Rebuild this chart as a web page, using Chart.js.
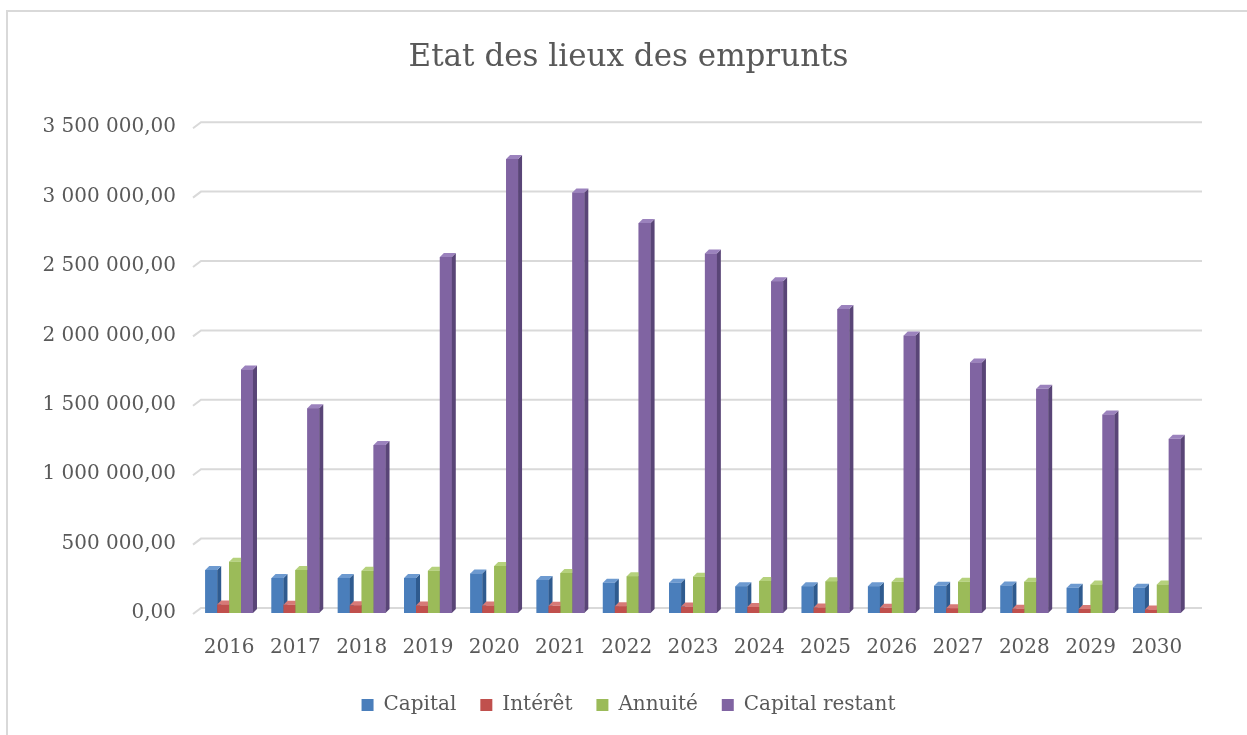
<!DOCTYPE html>
<html>
<head>
<meta charset="utf-8">
<script src="https://cdn.jsdelivr.net/npm/chart.js@4"></script>
<style>
  html, body { margin: 0; padding: 0; background: #fff; }
  #wrap { width: 1247px; height: 735px; position: relative; }
</style>
</head>
<body>
<div id="wrap"><canvas id="graphique" width="1247" height="735"></canvas></div>
<script>
const annees = ["2016", "2017", "2018", "2019", "2020", "2021", "2022", "2023", "2024", "2025", "2026", "2027", "2028", "2029", "2030"];
const capital = [310000, 252000, 252000, 252000, 285000, 238000, 218000, 218000, 192000, 192000, 192000, 196000, 198000, 182000, 182000];
const interet = [62000, 60000, 55000, 54000, 54000, 52000, 49000, 46000, 43000, 40000, 37000, 34000, 31000, 28000, 25000];
const annuite = [370000, 310000, 305000, 305000, 338000, 288000, 265000, 262000, 230000, 228000, 225000, 225000, 226000, 205000, 205000];
const restant = [1755000, 1475000, 1210000, 2565000, 3270000, 3030000, 2810000, 2590000, 2390000, 2190000, 2000000, 1805000, 1615000, 1430000, 1255000];
const graduations = [0, 500000, 1000000, 1500000, 2000000, 2500000, 3000000, 3500000];

const couleurs = ["#4a7ebb", "#c0504d", "#9bbb59", "#8064a2"];
const cotes = ["#2f5b8f", "#8e3432", "#718a3d", "#594577"];
const dessus = ["#6d9ad0", "#d77a77", "#b5d17c", "#9b82bd"];
const PROF = 4;

function formatNombre(v) {
  const s = Math.round(v).toString().replace(/\B(?=(\d{3})+(?!\d))/g, " ");
  return s + ",00";
}

const cadre = {
  id: "cadre",
  beforeDraw(chart) {
    const ctx = chart.ctx;
    ctx.save();
    ctx.fillStyle = "#fff";
    ctx.fillRect(0, 0, chart.width, chart.height);
    ctx.strokeStyle = "#d9d9d9";
    ctx.lineWidth = 2;
    ctx.strokeRect(7, 11, 1260, 760);
    ctx.restore();
  }
};

const grille3d = {
  id: "grille3d",
  beforeDatasetsDraw(chart) {
    const ctx = chart.ctx;
    const y = chart.scales.y;
    const a = chart.chartArea;
    ctx.save();
    ctx.strokeStyle = "#d9d9d9";
    ctx.lineWidth = 2;
    graduations.forEach(v => {
      const py = y.getPixelForValue(v);
      ctx.beginPath();
      ctx.moveTo(a.left - 3, py + 1);
      ctx.lineTo(a.left + 5, py - 5);
      ctx.lineTo(a.right + 12, py - 5);
      ctx.stroke();
    });
    ctx.restore();
  }
};

const barres3d = {
  id: "barres3d",
  afterDatasetsDraw(chart) {
    const ctx = chart.ctx;
    ctx.save();
    chart.data.datasets.forEach((ds, i) => {
      const meta = chart.getDatasetMeta(i);
      meta.data.forEach(bar => {
        const p = bar.getProps(["x", "y", "base", "width"], true);
        const x0 = p.x - p.width / 2, x1 = p.x + p.width / 2;
        ctx.fillStyle = couleurs[i];
        ctx.fillRect(x0, p.y, p.width, p.base - p.y);
        ctx.fillStyle = cotes[i];
        ctx.beginPath();
        ctx.moveTo(x1, p.base);
        ctx.lineTo(x1, p.y);
        ctx.lineTo(x1 + PROF, p.y - PROF);
        ctx.lineTo(x1 + PROF, p.base - PROF);
        ctx.closePath();
        ctx.fill();
        ctx.fillStyle = dessus[i];
        ctx.beginPath();
        ctx.moveTo(x0, p.y);
        ctx.lineTo(x1, p.y);
        ctx.lineTo(x1 + PROF, p.y - PROF);
        ctx.lineTo(x0 + PROF, p.y - PROF);
        ctx.closePath();
        ctx.fill();
      });
    });
    ctx.restore();
  }
};

const police = "'DejaVu Serif', 'Liberation Serif', serif";

new Chart(document.getElementById("graphique"), {
  type: "bar",
  data: {
    labels: annees,
    datasets: [
      { label: "Capital", data: capital, backgroundColor: couleurs[0] },
      { label: "Intérêt", data: interet, backgroundColor: couleurs[1] },
      { label: "Annuité", data: annuite, backgroundColor: couleurs[2] },
      { label: "Capital restant", data: restant, backgroundColor: couleurs[3] }
    ]
  },
  options: {
    responsive: false,
    animation: false,
    layout: { padding: { left: 36, right: 26, top: 14, bottom: 10 } },
    datasets: { bar: { categoryPercentage: 0.72, barPercentage: 1.0 } },
    plugins: {
      title: {
        display: true,
        text: "Etat des lieux des emprunts",
        color: "#595959",
        font: { family: police, size: 31, weight: "normal" },
        padding: { top: 25, bottom: 51 }
      },
      legend: {
        position: "bottom",
        labels: {
          color: "#595959",
          font: { family: police, size: 20 },
          boxWidth: 12,
          boxHeight: 12,
          padding: 24
        }
      },
      tooltip: { enabled: false }
    },
    scales: {
      x: {
        grid: { display: false, drawTicks: false },
        border: { display: false },
        afterFit(scale) { scale.height = 58; },
        ticks: { color: "#595959", font: { family: police, size: 20 }, padding: 23 }
      },
      y: {
        min: 0,
        max: 3500000,
        grid: { display: false, drawTicks: false },
        border: { display: false },
        afterFit(scale) { scale.width = 160; },
        ticks: {
          stepSize: 500000,
          padding: 20,
          color: "#595959",
          font: { family: police, size: 20 },
          callback: v => formatNombre(v)
        }
      },
      marge: {
        type: "linear",
        position: "right",
        grid: { display: false, drawTicks: false },
        border: { display: false },
        ticks: { display: false },
        afterFit(scale) { scale.width = 31; }
      }
    }
  },
  plugins: [cadre, grille3d, barres3d]
});
</script>
</body>
</html>
